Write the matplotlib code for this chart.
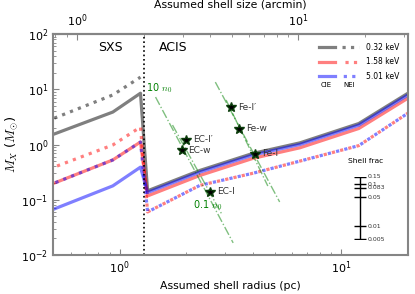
"""
Shell mass vs assumed shell radius (SXS / ACIS regions)
"""

import numpy as np
import matplotlib
matplotlib.use('Agg')
import matplotlib.pyplot as plt
from matplotlib.ticker import NullFormatter, FixedLocator
from matplotlib.legend_handler import HandlerTuple

# ================= data =================
# radius grid (pc): SXS part, then ACIS part
r_sxs = [0.506, 0.93, 1.24]
r_acis = [1.335, 2.3, 4.0, 6.5, 12.0, 20.0]

# shell mass (M_sun)
cie_032 = [1.55, 3.87, 8.5, 0.145, 0.339, 0.692, 1.07, 2.40, 8.5]
cie_158 = [0.20, 0.525, 1.11, 0.117, 0.275, 0.562, 0.871, 1.95, 6.9]
cie_501 = [0.068, 0.178, 0.389, 0.135, 0.316, 0.646, 1.0, 2.24, 7.9]
nei_032 = [3.0, 7.9, 16.6]
nei_158 = [0.39, 0.98, 2.07, 0.060, 0.182, 0.302, 0.50, 0.955, 3.7]
nei_501 = [0.20, 0.525, 1.11, 0.060, 0.182, 0.302, 0.50, 0.955, 3.7]

temp_labels = ['0.32 keV', '1.58 keV', '5.01 keV']

# measured points
star_names = ["EC-I\u2032", 'EC-w', 'EC-I', "Fe-I\u2032", 'Fe-w', 'Fe-I']
star_r = [2.0, 1.90, 2.56, 3.18, 3.45, 4.07]
star_m = [1.21, 0.79, 0.138, 4.77, 1.91, 0.673]

# density tracks (10 n0 -> 0.1 n0)
track_r = [[1.45, 3.25], [1.73, 2.90], [2.70, 5.27], [3.02, 4.66]]
track_m = [[7.24, 0.0165], [2.25, 0.053], [13.5, 0.091], [6.4, 0.177]]

# shell fraction scale bar
shell_frac = [0.15, 0.1, 0.083, 0.05, 0.01, 0.005]
shell_frac_labels = ['0.15', '0.1', '0.083', '0.05', '0.01', '0.005']

r_boundary = 1.28          # 2 arcmin
pc_per_arcmin = 0.64

# ================= style =================
plt.rcParams.update({
    'font.family': 'DejaVu Sans',
    'mathtext.fontset': 'cm',
    'axes.linewidth': 1.5,
    'axes.edgecolor': '#858585',
    'xtick.color': '#858585',
    'ytick.color': '#858585',
    'xtick.labelcolor': 'black',
    'ytick.labelcolor': 'black',
    'xtick.direction': 'in',
    'ytick.direction': 'in',
    'xtick.labelsize': 8,
    'ytick.labelsize': 8,
    'xtick.major.size': 4,
    'ytick.major.size': 4,
    'xtick.minor.size': 2,
    'ytick.minor.size': 2,
})

dpi = 100
lw = 2.3
alpha = 0.5
colors = ['k', 'r', 'b']
dot_on, dot_off = 1.0, 1.65
# dash phase wanted where the ACIS part starts, so red and blue dots alternate
acis_phase = [0.0, 0.0, 1.3]


def dash_offset(ax, r, m, phase):
    """offset so that the dot pattern has `phase` at the first ACIS point"""
    pts = ax.transData.transform(np.column_stack([r, m]))
    n = len(r_sxs) + 1
    seg = np.hypot(*np.diff(pts[:n], axis=0).T).sum()
    length = seg * 72.0 / dpi / lw
    return (phase - length) % (dot_on + dot_off)


def main():
    fig = plt.figure(figsize=(4.15, 2.94), dpi=dpi)
    ax = fig.add_axes([0.128, 0.133, 0.855, 0.751])
    ax.set_xscale('log')
    ax.set_yscale('log')
    ax.set_xlim(0.5, 20)
    ax.set_ylim(1e-2, 1e2)

    r_all = r_sxs + r_acis
    cie = [cie_032, cie_158, cie_501]
    nei = [nei_032, nei_158, nei_501]

    handles = []
    for c, ph, m_cie, m_nei in zip(colors, acis_phase, cie, nei):
        h1, = ax.plot(r_all[:len(m_cie)], m_cie, color=c, lw=lw,
                      alpha=alpha, ls='-')
        rr = r_all[:len(m_nei)]
        off = dash_offset(ax, rr, m_nei, ph) if len(m_nei) > len(r_sxs) else 0
        h2, = ax.plot(rr, m_nei, color=c, lw=lw, alpha=alpha,
                      ls=(off, (dot_on, dot_off)))
        handles.append((h1, h2))

    # region boundary
    ax.axvline(r_boundary, color='k', ls=':', lw=1.2)

    # density tracks
    for tr, tm in zip(track_r, track_m):
        ax.plot(tr, tm, color='g', ls='-.', lw=1.0, alpha=0.5)
    ax.text(1.31, 10.5, r'10 $n_0$', color='g', fontsize=7,
            va='center', ha='left')
    ax.text(2.13, 0.080, r'0.1 $n_0$', color='g', fontsize=7,
            va='center', ha='left')

    # stars
    ax.plot(star_r, star_m, ls='none', marker='*', ms=7.5, color='k',
            mec='#0b3d0b')
    for name, r, m in zip(star_names, star_r, star_m):
        ax.annotate(name, (r, m), xytext=(5, 0), textcoords='offset points',
                    va='center', ha='left', fontsize=6.5, color='#333333')

    ax.tick_params(which='both', top=False, right=False)
    ax.set_xlabel('Assumed shell radius (pc)', fontsize=7.8, labelpad=3)
    ax.set_ylabel(r'$M_X$ ($M_{\odot}$)', fontsize=9.5, labelpad=1)

    secax = ax.secondary_xaxis('top',
                               functions=(lambda r: r / pc_per_arcmin,
                                          lambda a: a * pc_per_arcmin))
    secax.set_xlabel('Assumed shell size (arcmin)', fontsize=7.8, labelpad=4)
    secax.tick_params(which='both', direction='in')
    secax.xaxis.set_major_locator(FixedLocator([1, 10]))
    secax.xaxis.set_minor_formatter(NullFormatter())

    ax.text(0.161, 0.941, 'SXS', transform=ax.transAxes, fontsize=9,
            ha='center', va='center')
    ax.text(0.338, 0.941, 'ACIS', transform=ax.transAxes, fontsize=9,
            ha='center', va='center')

    # legend: solid (CIE) and dotted (NEI) side by side
    ax.legend(handles, temp_labels, loc='upper right',
              bbox_to_anchor=(0.985, 0.975), borderaxespad=0,
              frameon=False, fontsize=5.5, handlelength=5.2,
              handletextpad=1.0, labelspacing=0.75,
              handler_map={tuple: HandlerTuple(ndivide=None, pad=0.9)})
    ax.text(0.769, 0.769, 'CIE', transform=ax.transAxes, fontsize=5,
            ha='center', va='center')
    ax.text(0.834, 0.769, 'NEI', transform=ax.transAxes, fontsize=5,
            ha='center', va='center')

    # shell fraction scale bar
    ax_sf = fig.add_axes([0.843, 0.187, 0.048, 0.211])
    ax_sf.set_yscale('log')
    ax_sf.set_ylim(0.005, 0.15)
    ax_sf.set_xlim(-1, 1)
    ax_sf.plot([0, 0], [min(shell_frac), max(shell_frac)], color='k', lw=1)
    ax_sf.plot([0] * len(shell_frac), shell_frac, ls='none', marker='_',
               ms=8, mew=1, color='k')
    for f, lab in zip(shell_frac, shell_frac_labels):
        ax_sf.text(0.75, f, lab, fontsize=4.5, va='center', ha='left',
                   color='#333333')
    ax_sf.text(0.6, 0.36, 'Shell frac', fontsize=5.4, ha='center',
               va='center')
    ax_sf.axis('off')

    fig.savefig('out.png', dpi=dpi, facecolor='white')
    plt.close(fig)


if __name__ == "__main__":
    main()
